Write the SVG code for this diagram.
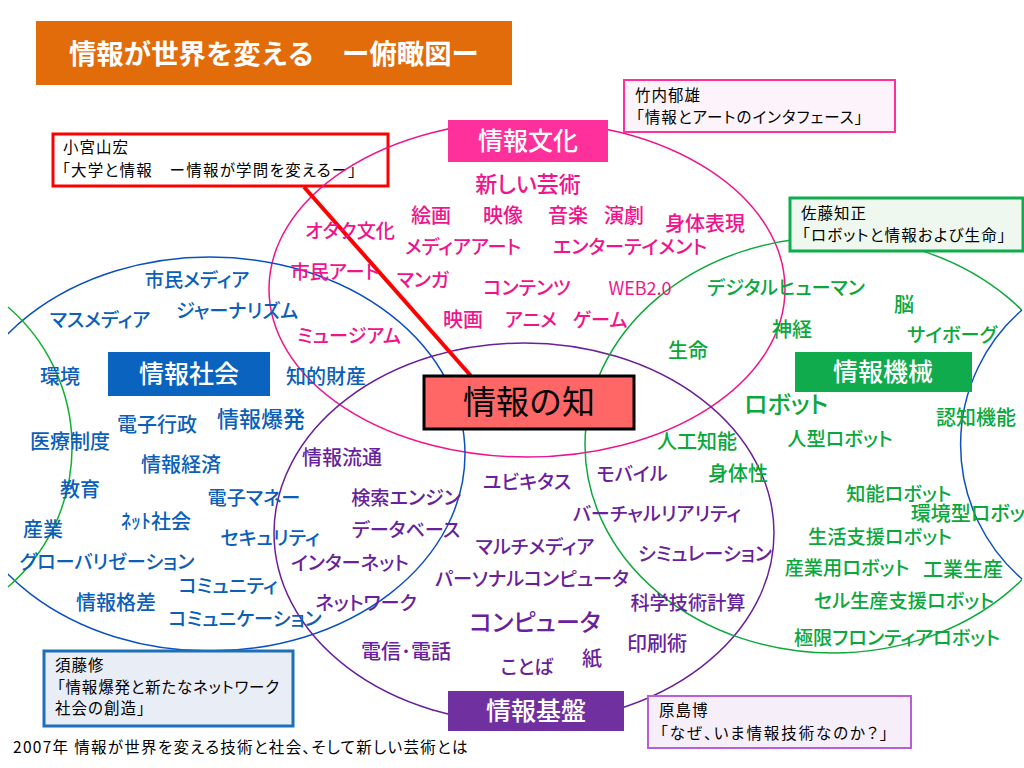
<svg xmlns="http://www.w3.org/2000/svg" width="1024" height="768" viewBox="0 0 1024 768">
<style>
text{font-family:"Noto Sans CJK JP","Noto Sans",sans-serif;text-anchor:middle;font-feature-settings:"palt"}
.w{font-size:20px;font-weight:500}
.k{font-size:19.2px}
.p{fill:#f0148c}.b{fill:#0b5fb8}.g{fill:#0aa83c}.v{fill:#6a1f9c}
.n{font-size:15.5px;text-anchor:start;fill:#000;letter-spacing:1px}
.h{font-size:25px;fill:#fff;font-weight:500;font-feature-settings:normal}
.e{fill:none;stroke-width:1.5}
</style>
<defs>
<clipPath id="cl"><rect x="8" y="0" width="1014" height="768"/></clipPath>
</defs>
<rect width="1024" height="768" fill="#fff"/>
<g id="note-komiya"><rect x="53" y="134" width="335" height="52" fill="#fff" stroke="#f00" stroke-width="3"/><text class="n" x="63" y="153">小宮山宏</text><text class="n" x="62" y="176" style="letter-spacing:1.25px">「大学と情報　ー情報が学問を変えるー」</text></g>
<g id="connectors">
<ellipse class="e" cx="527" cy="289" rx="258" ry="168" stroke="#f0148c"/>
<ellipse class="e" cx="210" cy="454" rx="255" ry="197" stroke="#0b50c0" clip-path="url(#cl)"/>
<ellipse class="e" cx="524" cy="533" rx="250" ry="190" stroke="#6a1f9c"/>
<ellipse class="e" cx="833" cy="445" rx="248" ry="208" stroke="#10a83c" clip-path="url(#cl)"/>
<path class="e" stroke="#0b50c0" d="M1022 310A178 178 0 0 0 1022 579"/>
<path class="e" stroke="#10b030" d="M8 307A185 185 0 0 1 8 587"/>
<line x1="304" y1="187" x2="471" y2="376" stroke="#f00" stroke-width="4"/>
</g>
<g id="title"><rect x="36" y="21" width="476" height="64" fill="#e36c0a"/><text x="274" y="64" font-size="27.4" fill="#fff" font-weight="700" style="font-feature-settings:normal">情報が世界を変える　ー俯瞰図ー</text></g>
<g id="center"><rect x="424" y="376" width="210" height="53" fill="#ff6666" stroke="#000" stroke-width="3"/><text x="529" y="414" font-size="33" style="font-feature-settings:normal">情報の知</text></g>
<g id="culture"><rect x="448" y="120" width="160" height="42" fill="#ff2f9b"/><text class="h" x="528" y="150">情報文化</text></g>
<g id="society"><rect x="108" y="352" width="162" height="44" fill="#0b63c0"/><text class="h" x="189" y="383">情報社会</text></g>
<g id="machine"><rect x="795" y="352" width="177" height="40" fill="#10ab4c"/><text class="h" x="883" y="381">情報機械</text></g>
<g id="base"><rect x="448" y="691" width="176" height="40" fill="#7030a0"/><text class="h" x="536" y="720">情報基盤</text></g>
<g id="note-takeuchi"><rect x="624" y="80" width="271" height="52" fill="#fdf3fa" stroke="#ff2f9b" stroke-width="2"/><text class="n" x="635" y="101">竹内郁雄</text><text class="n" x="636" y="123" style="letter-spacing:1.05px">「情報とアートのインタフェース」</text></g>
<g id="note-sato"><rect x="790" y="198" width="233" height="53" fill="#eef8ee" stroke="#10ab4c" stroke-width="3"/><text class="n" x="801" y="219">佐藤知正</text><text class="n" x="802" y="241" style="letter-spacing:1.15px">「ロボットと情報および生命」</text></g>
<g id="note-sudo"><rect x="44" y="651" width="249" height="75" fill="#e9edf6" stroke="#1f6fb5" stroke-width="3"/><text class="n" x="55" y="671">須藤修</text><text class="n" x="57" y="693" style="letter-spacing:.8px">「情報爆発と新たなネットワーク</text><text class="n" x="55" y="714">社会の創造」</text></g>
<g id="note-harashima"><rect x="648" y="696" width="263" height="52" fill="#f6eef9" stroke="#b65fd8" stroke-width="2"/><text class="n" x="659" y="716">原島博</text><text class="n" x="660" y="739" style="letter-spacing:1.9px">「なぜ、いま情報技術なのか？」</text></g>
<g id="footer"><text class="n" x="13" y="753" style="letter-spacing:1.3px">2007年 情報が世界を変える技術と社会、そして新しい芸術とは</text></g>
<g id="culture-terms" class="w p" transform="translate(0,1)">
<text x="528" y="191" style="font-size:22px">新しい芸術</text><text x="431" y="222">絵画</text><text x="503" y="222">映像</text><text x="568" y="222">音楽</text><text x="624" y="222">演劇</text><text x="705" y="230">身体表現</text><text x="350" y="237" class="k">オタク文化</text><text x="463" y="253" class="k">メディアアート</text><text x="630" y="253" class="k">エンターテイメント</text><text x="335" y="278" class="k">市民アート</text><text x="423" y="286" class="k">マンガ</text><text x="527" y="294" class="k">コンテンツ</text><text x="640" y="294" style="font-size:18px;font-weight:400">WEB2.0</text><text x="349" y="342" class="k">ミュージアム</text><text x="463" y="326">映画</text><text x="531" y="326" class="k">アニメ</text><text x="600" y="326" class="k">ゲーム</text>
</g>
<g id="society-terms" class="w b" transform="translate(0,1)">
<text x="197" y="286" class="k">市民メディア</text><text x="237" y="317" class="k">ジャーナリズム</text><text x="100" y="326" class="k">マスメディア</text><text x="60" y="383">環境</text><text x="326" y="383">知的財産</text><text x="261" y="426" style="font-size:22px">情報爆発</text><text x="157" y="431">電子行政</text><text x="70" y="448">医療制度</text><text x="181" y="471">情報経済</text><text x="80" y="496">教育</text><text x="254" y="504" class="k">電子マネー</text><text x="156" y="528">ﾈｯﾄ社会</text><text x="43" y="536">産業</text><text x="270" y="544" class="k">セキュリティ</text><text x="107" y="568" class="k">グローバリゼーション</text><text x="228" y="592" class="k">コミュニティ</text><text x="116" y="609">情報格差</text><text x="245" y="625" class="k">コミュニケーション</text>
</g>
<g id="machine-terms" class="w g" transform="translate(0,1)">
<text x="786" y="294" class="k">デジタルヒューマン</text><text x="904" y="311">脳</text><text x="792" y="336">神経</text><text x="952" y="341" class="k">サイボーグ</text><text x="688" y="357">生命</text><text x="786" y="412" style="font-size:24px">ロボット</text><text x="976" y="424">認知機能</text><text x="840" y="445" class="k">人型ロボット</text><text x="697" y="448">人工知能</text><text x="738" y="480">身体性</text><text x="899" y="500" class="k">知能ロボット</text><text x="968" y="520">環境型ロボッ</text><text x="880" y="543" class="k">生活支援ロボット</text><text x="847" y="574" class="k">産業用ロボット</text><text x="963" y="576">工業生産</text><text x="904" y="607" class="k">セル生産支援ロボット</text><text x="897" y="644" class="k">極限フロンティアロボット</text>
</g>
<g id="base-terms" class="w v" transform="translate(0,1)">
<text x="342" y="464">情報流通</text><text x="527" y="488" class="k">ユビキタス</text><text x="632" y="480" class="k">モバイル</text><text x="406" y="504" class="k">検索エンジン</text><text x="406" y="536" class="k">データベース</text><text x="657" y="520" class="k">バーチャルリアリティ</text><text x="535" y="553" class="k">マルチメディア</text><text x="705" y="560" class="k">シミュレーション</text><text x="350" y="569" class="k">インターネット</text><text x="532" y="585" class="k">パーソナルコンピュータ</text><text x="688" y="609" class="k">科学技術計算</text><text x="366" y="609" class="k">ネットワーク</text><text x="535" y="630" style="font-size:24px">コンピュータ</text><text x="657" y="650">印刷術</text><text x="406" y="658">電信･電話</text><text x="527" y="673" class="k">ことば</text><text x="592" y="665">紙</text>
</g>
</svg>
